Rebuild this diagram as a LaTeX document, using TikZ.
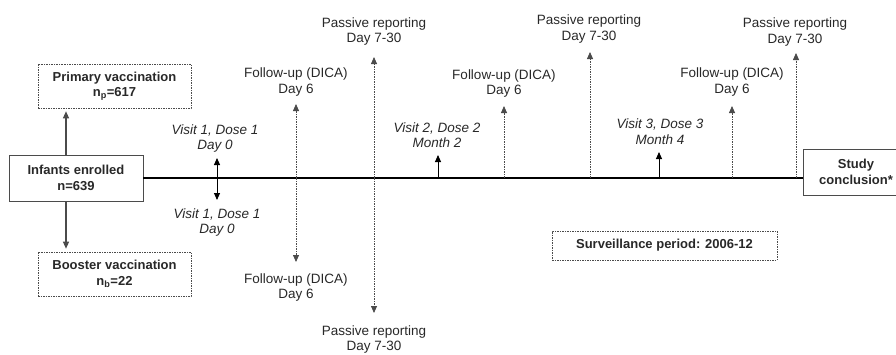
\documentclass[tikz,border=0pt]{standalone}
\usepackage{fontspec}
\setmainfont{Liberation Sans}
\usetikzlibrary{arrows.meta,positioning}
\definecolor{txtgray}{RGB}{40,40,40}
\definecolor{boxgray}{RGB}{75,75,75}

\begin{document}
\begin{tikzpicture}[x=1pt,y=-1pt,
  every node/.style={text=txtgray,font=\fontsize{13.5}{15.5}\selectfont},
  lbl/.style={align=center,inner sep=1pt},
  vlbl/.style={lbl,font=\fontsize{13.5}{15.5}\selectfont\itshape},
  solidbox/.style={draw=boxgray,line width=0.8pt,align=center,
    font=\fontsize{13}{15.5}\selectfont\bfseries,minimum height=46pt},
  dotbox/.style={solidbox,line width=0.6pt,dash pattern=on 1.5pt off 1pt,
    minimum width=153pt,minimum height=44pt},
  tip/.style={-{Triangle[width=6pt,length=7pt]}},
  link/.style={tip,draw=boxgray,line width=1.1pt},
  visit/.style={tip,draw=black,line width=0.9pt},
  report/.style={tip,draw=boxgray,line width=0.8pt,
    dash pattern=on 2pt off 1.2pt on 0.6pt off 1.2pt}]
  \useasboundingbox (0,0) rectangle (896,354);

  % boxes
  \node[solidbox,minimum width=134pt] (enrol) at (76,178) {Infants enrolled\\n=639};
  \node[dotbox] (prim) at (114.5,86) {Primary vaccination\\n\textsubscript{p}=617};
  \node[dotbox] (boost) at (114.5,274) {Booster vaccination\\n\textsubscript{b}=22};
  \node[solidbox,minimum width=106pt] (concl) at (856,172) {Study\\conclusion*};
  \node[dotbox,minimum width=225pt,minimum height=29pt] (surv) at (664.5,245.5)
    {Surveillance period: 2006-12};

  \draw[link,shorten >=3pt] ([xshift=-10pt]enrol.north) -- ([xshift=-10pt]enrol.north |- prim.south);
  \draw[link,shorten >=3pt] ([xshift=-10pt]enrol.south) -- ([xshift=-10pt]enrol.south |- boost.north);

  % timeline
  \draw[line width=2.8pt] (enrol.east) -- (enrol.east -| concl.west);

  % points on the timeline
  \coordinate (v1up) at (217,158);
  \coordinate (v1dn) at (217,200);
  \coordinate (fu1) at (296,178);
  \coordinate (fu1up) at (296,104);
  \coordinate (fu1dn) at (296,262);
  \coordinate (pr1) at (374,178);
  \coordinate (pr1up) at (374,57);
  \coordinate (pr1dn) at (374,313);
  \coordinate (v2) at (438,178);
  \coordinate (v2up) at (438,155);
  \coordinate (fu2) at (504,178);
  \coordinate (fu2up) at (504,106);
  \coordinate (pr2) at (590,178);
  \coordinate (pr2up) at (590,52);
  \coordinate (v3) at (659,178);
  \coordinate (v3up) at (659,152);
  \coordinate (fu3) at (732,178);
  \coordinate (fu3up) at (732,106);
  \coordinate (pr3) at (796,178);
  \coordinate (pr3up) at (796,53);

  % visits
  \draw[visit,{Triangle[width=6pt,length=7pt]}-{Triangle[width=6pt,length=7pt]}] (v1up) -- (v1dn);
  \draw[visit] (v2) -- (v2up);
  \draw[visit] (v3) -- (v3up);
  \node[vlbl] (v1lab) at (215,138.5) {Visit 1, Dose 1\\Day 0};
  \node[vlbl] (v1labdn) at (217,222.5) {Visit 1, Dose 1\\Day 0};
  \node[vlbl] (v2lab) at (437,135) {Visit 2, Dose 2\\Month 2};
  \node[vlbl] (v3lab) at (660,131.5) {Visit 3, Dose 3\\Month 4};

  % follow-up and passive reporting
  \draw[report] (fu1) -- (fu1up);
  \draw[report] (fu1) -- (fu1dn);
  \draw[report] (pr1) -- (pr1up);
  \draw[report] (pr1) -- (pr1dn);
  \draw[report] (fu2) -- (fu2up);
  \draw[report] (pr2) -- (pr2up);
  \draw[report] (fu3) -- (fu3up);
  \draw[report] (pr3) -- (pr3up);
  \node[lbl] (fu1lab) at (296,82) {Follow-up (DICA)\\Day 6};
  \node[lbl] (fu1labdn) at (296,287.5) {Follow-up (DICA)\\Day 6};
  \node[lbl] (pr1lab) at (374,31.5) {Passive reporting\\Day 7-30};
  \node[lbl] (pr1labdn) at (374,339.5) {Passive reporting\\Day 7-30};
  \node[lbl] (fu2lab) at (504,83.5) {Follow-up (DICA)\\Day 6};
  \node[lbl] (pr2lab) at (589,29) {Passive reporting\\Day 7-30};
  \node[lbl] (fu3lab) at (732,82) {Follow-up (DICA)\\Day 6};
  \node[lbl] (pr3lab) at (795,32) {Passive reporting\\Day 7-30};
\end{tikzpicture}
\end{document}
